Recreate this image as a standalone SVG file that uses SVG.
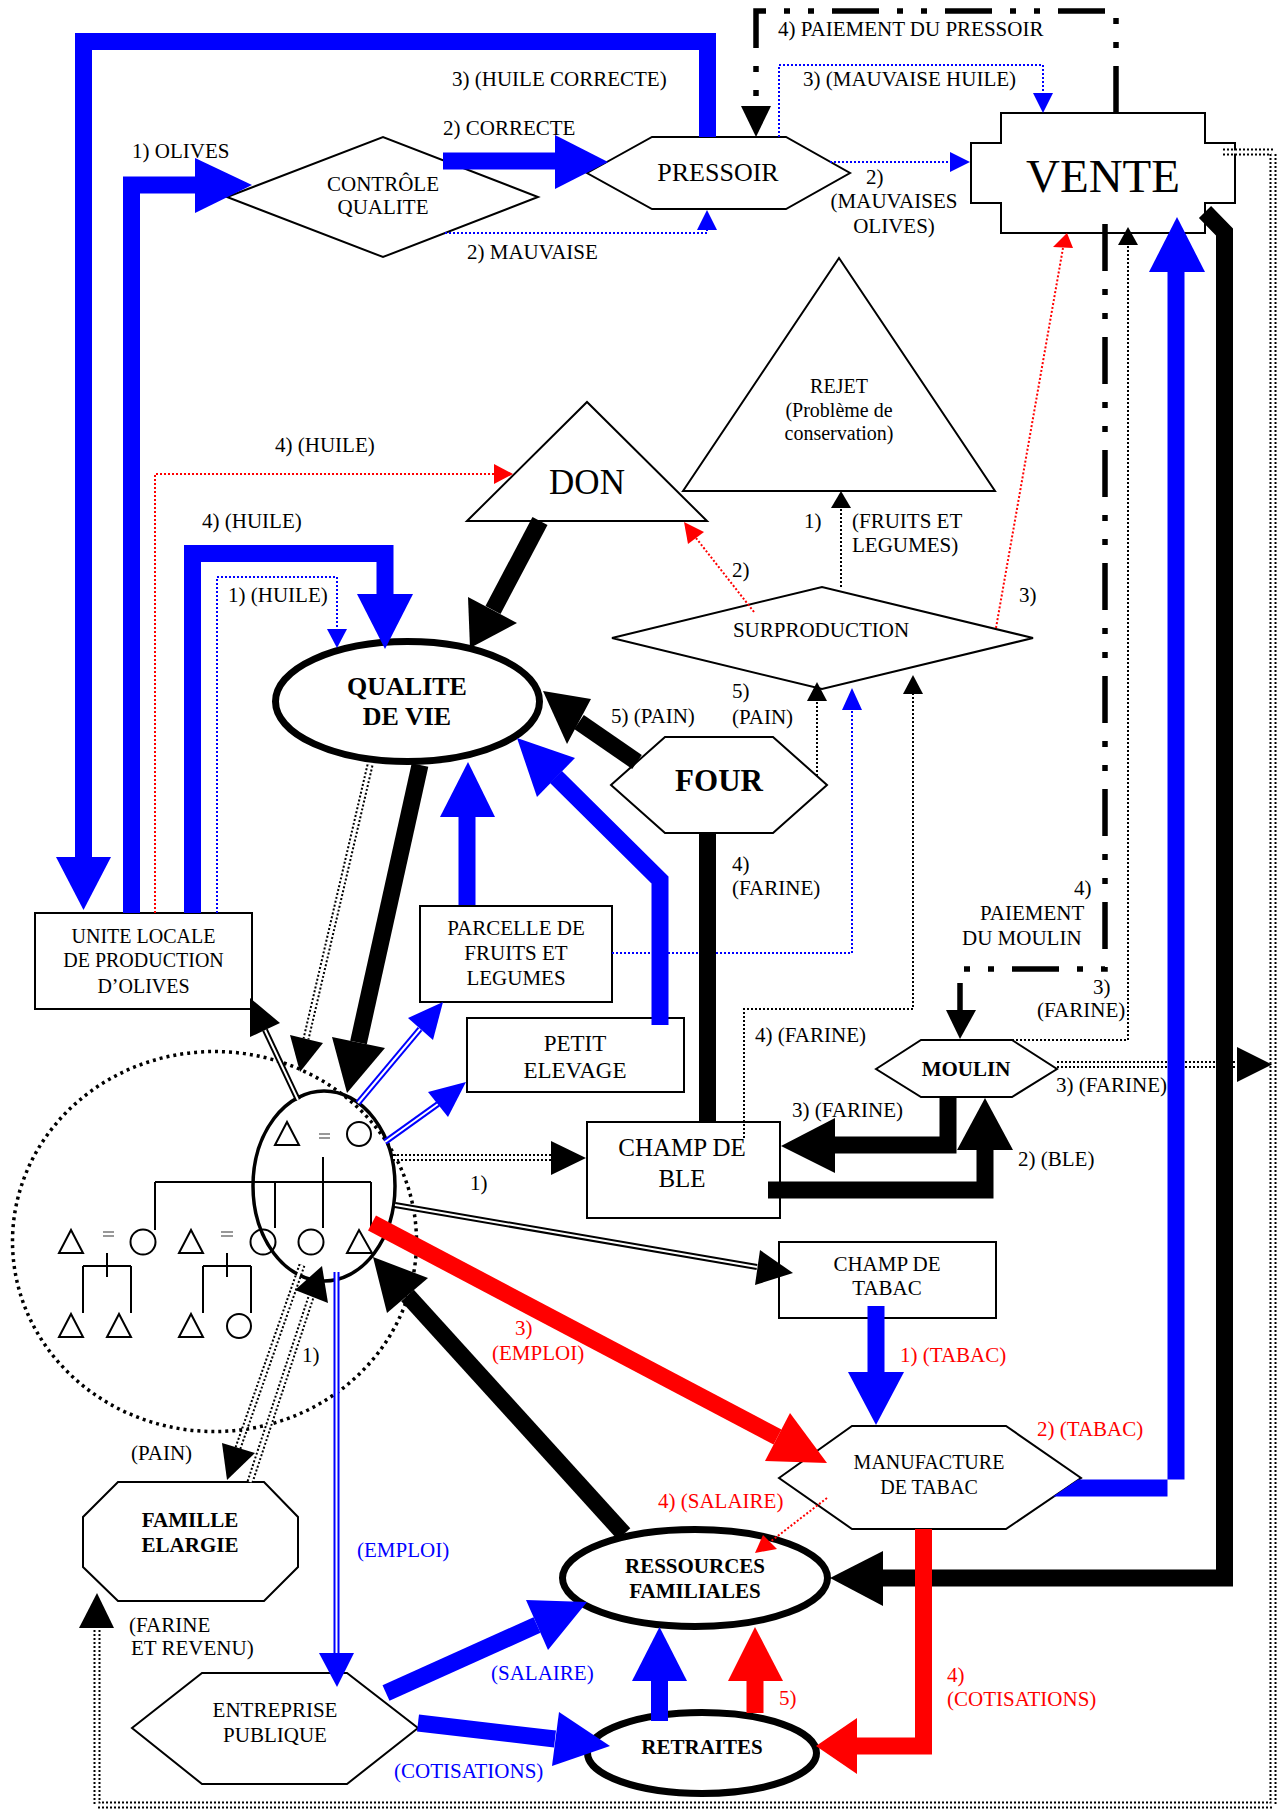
<svg xmlns="http://www.w3.org/2000/svg" width="1281" height="1809" viewBox="0 0 1281 1809">
<style>
  text { font-family: "Liberation Serif", "Times New Roman", serif; font-size: 21px; fill: #000; }
  .m { text-anchor: middle; }
  .b { font-weight: bold; }
  .red { fill: #f00; }
  .blu { fill: #00f; }
  .shape { fill: #fff; stroke: #000; stroke-width: 2; }
  .oval { fill: #fff; stroke: #000; stroke-width: 7; }
  .sym { fill: none; stroke: #000; stroke-width: 2; }
  .eq { stroke: #777; stroke-width: 1.5; }
  .w17 { fill: none; stroke-width: 17; stroke-linejoin: miter; }
  .cb { stroke: #00f; }
  .ck { stroke: #000; }
  .cr { stroke: #f00; }
  .dot { fill: none; stroke-width: 2; stroke-dasharray: 2 2; }
  .dd { fill: none; stroke: #000; stroke-width: 7; stroke-dasharray: 2 2; }
  .ddw { fill: none; stroke: #fff; stroke-width: 3; }
  .dl { fill: none; stroke-width: 6; }
  .dlw { fill: none; stroke: #fff; stroke-width: 2; }
  .dash { fill: none; stroke: #000; stroke-width: 5.5; stroke-dasharray: 47 18 6 18 6 18; }
  .hb { fill: #00f; }
  .hk { fill: #000; }
  .hr { fill: #f00; }
</style>

<!-- ===================== NODES ===================== -->
<g id="nodes">
  <g id="controle-qualite">
    <polygon class="shape" points="227,197 383,137 538,197 383,257"/>
    <text class="m" x="383" y="191">CONTRÔLE</text>
    <text class="m" x="383" y="214">QUALITE</text>
  </g>
  <g id="pressoir">
    <polygon class="shape" points="587,173 652,137 786,137 850,173 786,209 652,209"/>
    <text class="m" x="718" y="181" style="font-size:26px">PRESSOIR</text>
  </g>
  <g id="vente">
    <polygon class="shape" points="1001,113 1205,113 1205,143 1235,143 1235,203 1205,203 1205,233 1001,233 1001,203 971,203 971,143 1001,143"/>
    <text class="m" x="1103" y="192" style="font-size:47px">VENTE</text>
  </g>
  <g id="rejet">
    <polygon class="shape" points="683,491 839,258 995,491"/>
    <text class="m" x="839" y="393" style="font-size:20px">REJET</text>
    <text class="m" x="839" y="417" style="font-size:20px">(Problème de</text>
    <text class="m" x="839" y="440" style="font-size:20px">conservation)</text>
  </g>
  <g id="don">
    <polygon class="shape" points="467,521 587,402 707,521"/>
    <text class="m" x="587" y="494" style="font-size:35px">DON</text>
  </g>
  <g id="surproduction">
    <polygon class="shape" points="612,638 822,587 1033,638 822,689"/>
    <text class="m" x="821" y="637">SURPRODUCTION</text>
  </g>
  <g id="qualite-de-vie">
    <ellipse class="oval" cx="407.5" cy="701.5" rx="132" ry="60"/>
    <text class="m b" x="407" y="695" style="font-size:26px">QUALITE</text>
    <text class="m b" x="407" y="725" style="font-size:26px">DE VIE</text>
  </g>
  <g id="four">
    <polygon class="shape" points="611,785 665,737 773,737 827,785 773,833 665,833"/>
    <text class="m b" x="719" y="791" style="font-size:31px">FOUR</text>
  </g>
  <g id="unite-locale">
    <rect class="shape" x="35" y="913" width="217" height="96"/>
    <text class="m" x="143.5" y="943" style="font-size:20px">UNITE LOCALE</text>
    <text class="m" x="143.5" y="967" style="font-size:20px">DE PRODUCTION</text>
    <text class="m" x="143.5" y="993" style="font-size:20px">D’OLIVES</text>
  </g>
  <g id="parcelle">
    <rect class="shape" x="420" y="906" width="192" height="96"/>
    <text class="m" x="516" y="935">PARCELLE DE</text>
    <text class="m" x="516" y="960">FRUITS ET</text>
    <text class="m" x="516" y="985">LEGUMES</text>
  </g>
  <g id="petit-elevage">
    <rect class="shape" x="467" y="1018" width="217" height="74"/>
    <text class="m" x="575" y="1051" style="font-size:23px">PETIT</text>
    <text class="m" x="575" y="1078" style="font-size:23px">ELEVAGE</text>
  </g>
  <g id="champ-de-ble">
    <rect class="shape" x="587" y="1122" width="193" height="96"/>
    <text class="m" x="682" y="1156" style="font-size:25px">CHAMP DE</text>
    <text class="m" x="682" y="1187" style="font-size:25px">BLE</text>
  </g>
  <g id="champ-de-tabac">
    <rect class="shape" x="779" y="1242" width="217" height="76"/>
    <text class="m" x="887" y="1271">CHAMP DE</text>
    <text class="m" x="887" y="1295">TABAC</text>
  </g>
  <g id="moulin">
    <polygon class="shape" points="876,1069 921,1040 1012,1040 1057,1069 1012,1097 921,1097"/>
    <text class="m b" x="966" y="1076">MOULIN</text>
  </g>
  <g id="manufacture">
    <polygon class="shape" points="779,1478 852,1426 1006,1426 1081,1478 1006,1529 852,1529"/>
    <text class="m" x="929" y="1469" style="font-size:20px">MANUFACTURE</text>
    <text class="m" x="929" y="1494" style="font-size:20px">DE TABAC</text>
  </g>
  <g id="famille-elargie">
    <polygon class="shape" points="118,1482 264,1482 298,1517 298,1567 264,1601 118,1601 83,1567 83,1517"/>
    <text class="m b" x="190" y="1527">FAMILLE</text>
    <text class="m b" x="190" y="1552">ELARGIE</text>
  </g>
  <g id="entreprise-publique">
    <polygon class="shape" points="132,1728 202,1673 347,1673 418,1728 347,1784 202,1784"/>
    <text class="m" x="275" y="1717">ENTREPRISE</text>
    <text class="m" x="275" y="1742">PUBLIQUE</text>
  </g>
  <g id="ressources-familiales">
    <ellipse class="oval" cx="695" cy="1578" rx="132.5" ry="48.5"/>
    <text class="m b" x="695" y="1573">RESSOURCES</text>
    <text class="m b" x="695" y="1598">FAMILIALES</text>
  </g>
  <g id="retraites">
    <ellipse class="oval" cx="702" cy="1753" rx="114.5" ry="40.5"/>
    <text class="m b" x="702" y="1754">RETRAITES</text>
  </g>
  <g id="famille-nucleaire">
    <ellipse cx="214.5" cy="1241.5" rx="202" ry="190" fill="none" stroke="#000" stroke-width="3.5" stroke-dasharray="3 4"/>
    <ellipse cx="324" cy="1186" rx="71" ry="95" fill="none" stroke="#000" stroke-width="3.5"/>
    <!-- parents -->
    <polygon class="sym" points="275,1145 287,1122 299,1145"/>
    <path class="eq" d="M319,1134H330M319,1138H330"/>
    <circle class="sym" cx="359" cy="1134" r="12"/>
    <path class="sym" d="M323,1157V1228M155,1182H371M155,1182V1230M275,1182V1228M371,1182V1228"/>
    <!-- children and spouses -->
    <polygon class="sym" points="59,1253 71,1230 83,1253"/>
    <path class="eq" d="M103,1232H114M103,1236H114"/>
    <circle class="sym" cx="143" cy="1242" r="12.5"/>
    <polygon class="sym" points="179,1253 191,1230 203,1253"/>
    <path class="eq" d="M221,1232H233M221,1236H233"/>
    <circle class="sym" cx="263" cy="1242" r="12.5"/>
    <circle class="sym" cx="311" cy="1242" r="12.5"/>
    <polygon class="sym" points="347,1253 359,1230 372,1253"/>
    <!-- grandchildren -->
    <path class="sym" d="M107,1253V1277M83,1266H131M83,1266V1313M131,1266V1313"/>
    <path class="sym" d="M227,1253V1277M203,1266H251M203,1266V1313M251,1266V1313"/>
    <polygon class="sym" points="59,1337 71,1314 83,1337"/>
    <polygon class="sym" points="107,1337 119,1314 131,1337"/>
    <polygon class="sym" points="179,1337 191,1314 203,1337"/>
    <circle class="sym" cx="239" cy="1326" r="12"/>
  </g>
</g>

<!-- ===================== CONNECTORS ===================== -->
<g id="connectors">
  <!-- thin dotted flows -->
  <path class="dot cb" d="M445,233 L707,233 L707,230"/>
  <polygon class="hb" points="697,230 717,230 707,210"/>
  <path class="dot cb" d="M779,137 L779,65 L1043,65 L1043,93"/>
  <polygon class="hb" points="1033,93 1053,93 1043,113"/>
  <path class="dot cb" d="M830,162 L950,162"/>
  <polygon class="hb" points="950,152 950,172 970,162"/>
  <path class="dot cb" d="M217,913 L217,577 L337,577 L337,629"/>
  <polygon class="hb" points="327,629 347,629 337,648"/>
  <path class="dot cb" d="M612,953 L852,953 L852,710"/>
  <polygon class="hb" points="842,710 862,710 852,688"/>

  <path class="dot cr" d="M155,913 L155,474 L494,474"/>
  <polygon class="hr" points="494,464 494,484 513,474"/>
  <path class="dot cr" d="M754,612 L696,538"/>
  <polygon class="hr" points="684,522 688,544 704,532"/>
  <path class="dot cr" d="M996,628 L1063,248"/>
  <polygon class="hr" points="1053,247 1073,248 1067,233"/>
  <path class="dot cr" d="M827,1498 L770,1542"/>
  <polygon class="hr" points="755,1553 763,1535 777,1549"/>

  <path class="dot ck" d="M841,587 L841,508"/>
  <polygon class="hk" points="831,508 851,508 841,491"/>
  <path class="dot ck" d="M817,776 L817,701"/>
  <polygon class="hk" points="807,701 827,701 817,682"/>
  <path class="dot ck" d="M744,1138 L744,1009 L913,1009 L913,694"/>
  <polygon class="hk" points="903,694 923,694 913,675"/>
  <path class="dot ck" d="M1012,1040 L1128,1040 L1128,245"/>
  <polygon class="hk" points="1118,245 1138,245 1128,227"/>

  <!-- double dotted flows -->
  <path class="dd" d="M1223,152 L1273,152 L1273,1805 L97,1805 L97,1628"/>
  <path class="ddw" d="M1223,152 L1273,152 L1273,1805 L97,1805 L97,1628"/>
  <polygon class="hk" points="79,1628 114,1628 97,1593"/>
  <path class="dd" d="M1057,1064.5 L1237,1064.5"/>
  <path class="ddw" d="M1057,1064.5 L1237,1064.5"/>
  <polygon class="hk" points="1237,1047 1237,1082 1272,1064.5"/>
  <path class="dd" d="M370,765 L306,1039"/>
  <path class="ddw" d="M370,765 L306,1039"/>
  <polygon class="hk" points="290,1035 323,1043 300,1072"/>
  <path class="dd" d="M393,1157.5 L551,1157.5"/>
  <path class="ddw" d="M393,1157.5 L551,1157.5"/>
  <polygon class="hk" points="551,1141 551,1175 586,1158"/>
  <path class="dd" d="M302,1265 L238,1448"/>
  <path class="ddw" d="M302,1265 L238,1448"/>
  <polygon class="hk" points="222,1443 255,1453 227,1480"/>
  <path class="dd" d="M250,1482 L311,1297"/>
  <path class="ddw" d="M250,1482 L311,1297"/>
  <polygon class="hk" points="295,1290 328,1303 322,1266"/>

  <!-- dash-dot payment flows -->
  <path class="dash" d="M1116,113 L1116,11 L756,11 L756,106"/>
  <polygon class="hk" points="741,106 771,106 756,137"/>
  <path class="dash" d="M1105,224 L1105,969 L960,969 L960,1010"/>
  <polygon class="hk" points="946,1010 976,1010 960,1039"/>

  <!-- double line flows -->
  <path class="dl ck" d="M298,1100 L265,1030"/>
  <path class="dlw" d="M298,1100 L265,1030"/>
  <polygon class="hk" points="250,998 280,1023 250,1037"/>
  <path class="dl ck" d="M395,1205 L757,1267"/>
  <path class="dlw" d="M395,1205 L757,1267"/>
  <polygon class="hk" points="760,1250 755,1285 793,1273"/>
  <path class="dl cb" d="M358,1103 L420,1029"/>
  <path class="dlw" d="M358,1103 L420,1029"/>
  <polygon class="hb" points="408,1018 433,1040 443,1002"/>
  <path class="dl cb" d="M385,1142 L438,1104"/>
  <path class="dlw" d="M385,1142 L438,1104"/>
  <polygon class="hb" points="428,1092 448,1117 466,1082"/>
  <path class="dl cb" d="M336.5,1272 L336.5,1653"/>
  <path class="dlw" d="M336.5,1272 L336.5,1653"/>
  <polygon class="hb" points="319,1653 354,1653 337,1687"/>

  <!-- thick blue flows -->
  <path class="w17 cb" d="M707.5,137 L707.5,41.5 L83.5,41.5 L83.5,857"/>
  <polygon class="hb" points="56,857 111,857 83.5,910"/>
  <path class="w17 cb" d="M131.5,913 L131.5,185 L195,185"/>
  <polygon class="hb" points="195,158 195,213 252,185"/>
  <path class="w17 cb" d="M443,161 L555,161"/>
  <polygon class="hb" points="555,135 555,189 608,162"/>
  <path class="w17 cb" d="M192.5,913 L192.5,553.5 L385,553.5 L385,594"/>
  <polygon class="hb" points="357,594 413,594 385,649"/>
  <path class="w17 cb" d="M467,905 L467,817"/>
  <polygon class="hb" points="440,817 495,817 468,762"/>
  <path class="w17 cb" d="M660,1025 L660,880 L556,777"/>
  <polygon class="hb" points="517,738 537,797 575,758"/>
  <path class="w17 cb" d="M876,1306 L876,1372"/>
  <polygon class="hb" points="848,1372 904,1372 876,1425"/>
  <polygon class="hb" points="1078,1479.5 1184.5,1479.5 1184.5,272 1167.5,272 1167.5,1496.5 1053,1496.5"/>
  <polygon class="hb" points="1149,272 1205,272 1177,217"/>
  <path class="w17 cb" d="M386,1693 L537,1625"/>
  <polygon class="hb" points="526,1600 548,1650 587,1602"/>
  <path class="w17 cb" d="M418,1723 L555,1739"/>
  <polygon class="hb" points="559,1712 552,1766 610,1746"/>
  <path class="w17 cb" d="M659.5,1721 L659.5,1681"/>
  <polygon class="hb" points="632,1681 687,1681 659.5,1627"/>

  <!-- thick black flows -->
  <path class="w17 ck" d="M540,521 L493,610"/>
  <polygon class="hk" points="468,597 517,623 470,648"/>
  <path class="w17 ck" d="M637,762 L579,722"/>
  <polygon class="hk" points="543,691 567,744 591,699"/>
  <path class="w17 ck" d="M420,765 L358.5,1042.5"/>
  <polygon class="hk" points="332,1037 385,1048 347,1093"/>
  <path class="w17 ck" d="M707.5,833 L707.5,1122"/>
  <path class="w17 ck" d="M948,1097 L948,1145 L835,1145"/>
  <polygon class="hk" points="835,1118 835,1173 781,1146"/>
  <path class="w17 ck" d="M768,1190 L985,1190 L985,1150"/>
  <polygon class="hk" points="957,1150 1013,1150 985,1098"/>
  <path class="w17 ck" d="M1205,212 L1224.5,232 L1224.5,1578 L883,1578"/>
  <polygon class="hk" points="883,1551 883,1606 830,1578"/>
  <path class="w17 ck" d="M624,1534 L407.5,1295.5"/>
  <polygon class="hk" points="387,1313 428,1278 373,1257"/>

  <!-- thick red flows -->
  <path class="w17 cr" d="M372,1223 L777.5,1437"/>
  <polygon class="hr" points="790,1413 765,1461 827,1463"/>
  <path class="w17 cr" d="M923.5,1529 L923.5,1746 L857,1746"/>
  <polygon class="hr" points="857,1718 857,1774 816,1746"/>
  <path class="w17 cr" d="M755,1713 L755,1681"/>
  <polygon class="hr" points="728,1681 783,1681 755,1627"/>
</g>

<!-- ===================== FLOW LABELS ===================== -->
<g id="labels">
  <text x="132" y="158">1) OLIVES</text>
  <text x="452" y="86">3) (HUILE CORRECTE)</text>
  <text x="443" y="135">2) CORRECTE</text>
  <text x="467" y="259">2) MAUVAISE</text>
  <text x="778" y="36">4) PAIEMENT DU PRESSOIR</text>
  <text x="803" y="86">3) (MAUVAISE HUILE)</text>
  <text x="866" y="184">2)</text>
  <text class="m" x="894" y="208">(MAUVAISES</text>
  <text class="m" x="894" y="233">OLIVES)</text>
  <text x="275" y="452">4) (HUILE)</text>
  <text x="202" y="528">4) (HUILE)</text>
  <text x="228" y="602">1) (HUILE)</text>
  <text x="804" y="528">1)</text>
  <text x="852" y="528">(FRUITS ET</text>
  <text x="852" y="552">LEGUMES)</text>
  <text x="732" y="577">2)</text>
  <text x="1019" y="602">3)</text>
  <text x="611" y="723">5) (PAIN)</text>
  <text x="732" y="698">5)</text>
  <text x="732" y="724">(PAIN)</text>
  <text x="732" y="871">4)</text>
  <text x="732" y="895">(FARINE)</text>
  <text x="1074" y="895">4)</text>
  <text x="980" y="920">PAIEMENT</text>
  <text x="962" y="945">DU MOULIN</text>
  <text x="1093" y="994">3)</text>
  <text x="1037" y="1017">(FARINE)</text>
  <text x="755" y="1042">4) (FARINE)</text>
  <text x="792" y="1117">3) (FARINE)</text>
  <text x="1056" y="1092">3) (FARINE)</text>
  <text x="1018" y="1166">2) (BLE)</text>
  <text x="470" y="1190">1)</text>
  <text x="302" y="1362">1)</text>
  <text x="131" y="1460">(PAIN)</text>
  <text x="129" y="1632">(FARINE</text>
  <text x="131" y="1655">ET REVENU)</text>
  <text class="blu" x="357" y="1557">(EMPLOI)</text>
  <text class="red" x="515" y="1335">3)</text>
  <text class="red" x="492" y="1360">(EMPLOI)</text>
  <text class="red" x="900" y="1362">1) (TABAC)</text>
  <text class="red" x="1037" y="1436">2) (TABAC)</text>
  <text class="red" x="658" y="1508">4) (SALAIRE)</text>
  <text class="red" x="947" y="1682">4)</text>
  <text class="red" x="947" y="1706">(COTISATIONS)</text>
  <text class="red" x="779" y="1705">5)</text>
  <text class="blu" x="491" y="1680">(SALAIRE)</text>
  <text class="blu" x="394" y="1778">(COTISATIONS)</text>
</g>
</svg>
